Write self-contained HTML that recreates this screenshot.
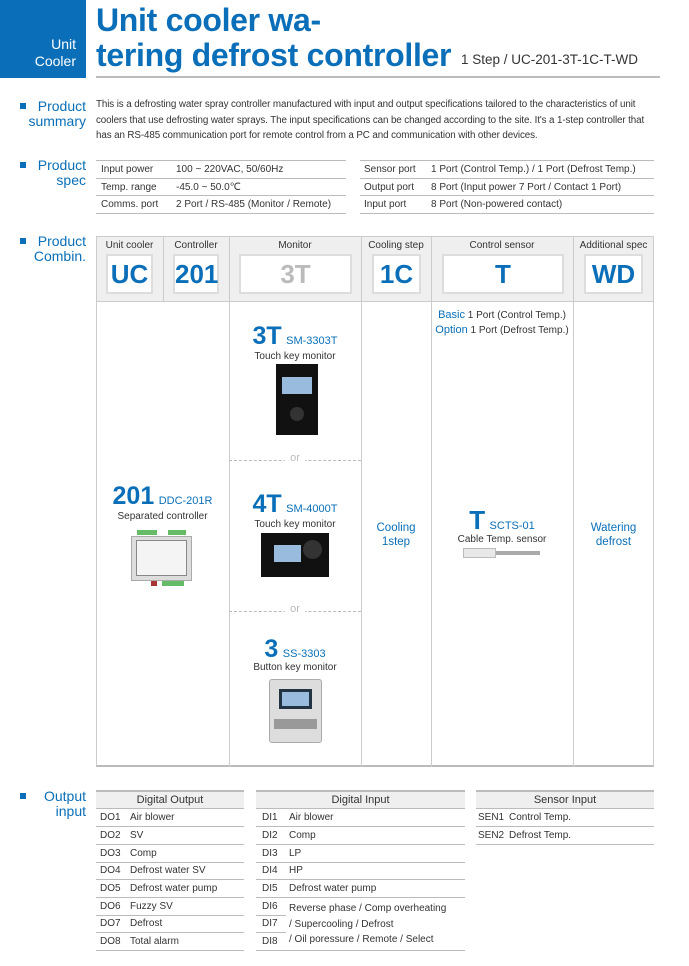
<!DOCTYPE html>
<html><head><meta charset="utf-8"><style>
*{margin:0;padding:0;box-sizing:border-box}
body{width:689px;height:966px;background:#fff;position:relative;font-family:"Liberation Sans",sans-serif;color:#333;overflow:hidden}
.a{position:absolute}
.blue{color:#0a6fb8}
.sec{position:absolute;left:18px;width:68px;text-align:right;color:#0a6fb8;font-size:14px;line-height:15px}
.sec i{position:absolute;left:2px;top:4px;width:6px;height:6px;background:#0a6fb8}
.t{font-size:10.5px;color:#333}
.row{position:absolute;height:17.6px;border-bottom:1px solid #bbb;font-size:10px;line-height:17px}
.hd{position:absolute;background:#efefef;border-top:2px solid #bbb;border-bottom:1px solid #bbb;text-align:center;font-size:11px;line-height:16px;height:19px}
.vl{position:absolute;width:1px;background:#ccc}
.box{position:absolute;background:#fff;border:2px solid #ddd;text-align:center;font-size:26px;line-height:36px;color:#0a6fb8;font-weight:bold}
.ch{position:absolute;font-size:10px;text-align:center;top:240px}
.c{text-align:center;position:absolute}
</style></head><body>
<div class="a" style="left:0;top:0;width:86px;height:78px;background:#0a6fb8"></div>
<div class="a" style="left:0;top:36px;width:76px;text-align:right;color:#fff;font-size:14px;line-height:17px">Unit<br>Cooler</div>
<div class="a blue" style="left:96px;top:3px;font-size:32px;line-height:35px;font-weight:bold;letter-spacing:-0.3px">Unit cooler wa-<br>tering defrost controller</div>
<div class="a" style="left:461px;top:52px;font-size:13.5px;color:#333">1 Step / UC-201-3T-1C-T-WD</div>
<div class="a" style="left:96px;top:76px;width:564px;height:2px;background:#bbb"></div>

<div class="sec" style="top:99px"><i></i>Product<br>summary</div>
<div class="a" style="left:96px;top:97px;width:566px;font-size:9.8px;line-height:15.5px;color:#333;letter-spacing:-0.1px">This is a defrosting water spray controller manufactured with input and output specifications tailored to the characteristics of unit coolers that use defrosting water sprays. The input specifications can be changed according to the site. It's a 1-step controller that has an RS-485 communication port for remote control from a PC and communication with other devices.</div>

<div class="sec" style="top:158px"><i></i>Product<br>spec</div>
<div class="a" style="left:96px;top:160px;width:250px;height:1px;background:#bbb"></div>
<div class="row" style="left:96px;top:161px;width:250px"><span style="margin-left:5px">Input power</span><span class="a" style="left:80px">100 ~ 220VAC, 50/60Hz</span></div>
<div class="row" style="left:96px;top:178.6px;width:250px"><span style="margin-left:5px">Temp. range</span><span class="a" style="left:80px">-45.0 ~ 50.0℃</span></div>
<div class="row" style="left:96px;top:196.2px;width:250px"><span style="margin-left:5px">Comms. port</span><span class="a" style="left:80px">2 Port / RS-485 (Monitor / Remote)</span></div>
<div class="a" style="left:360px;top:160px;width:294px;height:1px;background:#bbb"></div>
<div class="row" style="left:360px;top:161px;width:294px"><span style="margin-left:4px">Sensor port</span><span class="a" style="left:71px">1 Port (Control Temp.) / 1 Port (Defrost Temp.)</span></div>
<div class="row" style="left:360px;top:178.6px;width:294px"><span style="margin-left:4px">Output port</span><span class="a" style="left:71px">8 Port (Input power 7 Port / Contact 1 Port)</span></div>
<div class="row" style="left:360px;top:196.2px;width:294px"><span style="margin-left:4px">Input port</span><span class="a" style="left:71px">8 Port (Non-powered contact)</span></div>

<div class="sec" style="top:234px"><i></i>Product<br>Combin.</div>
<div class="a" style="left:96px;top:236px;width:558px;height:66px;background:#efefef;border-top:1px solid #ccc;border-bottom:1px solid #ccc"></div>
<div class="a" style="left:96px;top:236px;width:558px;height:531px;border:1px solid #ccc;border-bottom:2px solid #bbb"></div>
<div class="vl" style="left:163px;top:236px;height:66px"></div>
<div class="vl" style="left:229px;top:236px;height:531px"></div>
<div class="vl" style="left:361px;top:236px;height:531px"></div>
<div class="vl" style="left:431px;top:236px;height:531px"></div>
<div class="vl" style="left:573px;top:236px;height:531px"></div>
<div class="ch" style="left:96px;width:67px">Unit cooler</div>
<div class="ch" style="left:163px;width:66px">Controller</div>
<div class="ch" style="left:229px;width:132px">Monitor</div>
<div class="ch" style="left:361px;width:70px">Cooling step</div>
<div class="ch" style="left:431px;width:142px">Control sensor</div>
<div class="ch" style="left:573px;width:81px">Additional spec</div>
<div class="box" style="left:106px;top:254px;width:47px;height:40px">UC</div>
<div class="box" style="left:173px;top:254px;width:46px;height:40px">201</div>
<div class="box" style="left:239px;top:254px;width:113px;height:40px;color:#bbb">3T</div>
<div class="box" style="left:372px;top:254px;width:49px;height:40px">1C</div>
<div class="box" style="left:442px;top:254px;width:122px;height:40px">T</div>
<div class="box" style="left:584px;top:254px;width:59px;height:40px">WD</div>

<div class="c" style="left:96px;top:482px;width:133px"><span class="blue" style="font-size:25px;font-weight:bold">201</span> <span class="blue" style="font-size:11px">DDC-201R</span></div>
<div class="c t" style="left:96px;top:511px;width:133px;font-size:10px">Separated controller</div>
<div class="a" style="left:131px;top:536px;width:61px;height:45px;background:#ddd;border:1px solid #aaa"></div>
<div class="a" style="left:136px;top:540px;width:51px;height:36px;background:#f4f4f4;border:1px solid #888"></div>
<div class="a" style="left:137px;top:530px;width:20px;height:5px;background:#6b6"></div>
<div class="a" style="left:168px;top:530px;width:18px;height:5px;background:#6b6"></div>
<div class="a" style="left:162px;top:581px;width:22px;height:5px;background:#6b6"></div>
<div class="a" style="left:151px;top:581px;width:6px;height:5px;background:#a33"></div>

<div class="c" style="left:229px;top:322px;width:132px"><span class="blue" style="font-size:25px;font-weight:bold">3T</span> <span class="blue" style="font-size:11px">SM-3303T</span></div>
<div class="c t" style="left:229px;top:351px;width:132px;font-size:10px">Touch key monitor</div>
<div class="a" style="left:276px;top:364px;width:42px;height:71px;background:#111"></div>
<div class="a" style="left:282px;top:377px;width:30px;height:17px;background:#9bd"></div>
<div class="a" style="left:290px;top:407px;width:14px;height:14px;border-radius:50%;background:#333"></div>
<div class="a" style="left:229px;top:460px;width:132px;border-top:1px dashed #bbb"></div>
<div class="a c" style="left:285px;top:452px;width:20px;background:#fff;color:#bbb;font-size:11px">or</div>

<div class="c" style="left:229px;top:490px;width:132px"><span class="blue" style="font-size:25px;font-weight:bold">4T</span> <span class="blue" style="font-size:11px">SM-4000T</span></div>
<div class="c t" style="left:229px;top:519px;width:132px;font-size:10px">Touch key monitor</div>
<div class="a" style="left:261px;top:533px;width:68px;height:44px;background:#111"></div>
<div class="a" style="left:274px;top:545px;width:27px;height:17px;background:#9bd"></div>
<div class="a" style="left:303px;top:540px;width:19px;height:19px;border-radius:50%;background:#333"></div>
<div class="a" style="left:229px;top:611px;width:132px;border-top:1px dashed #bbb"></div>
<div class="a c" style="left:285px;top:603px;width:20px;background:#fff;color:#bbb;font-size:11px">or</div>

<div class="c" style="left:229px;top:635px;width:132px"><span class="blue" style="font-size:25px;font-weight:bold">3</span> <span class="blue" style="font-size:11px">SS-3303</span></div>
<div class="c t" style="left:229px;top:662px;width:132px;font-size:10px">Button key monitor</div>
<div class="a" style="left:269px;top:679px;width:53px;height:64px;background:#ddd;border:1px solid #aaa;border-radius:3px"></div>
<div class="a" style="left:279px;top:689px;width:33px;height:20px;background:#234"></div>
<div class="a" style="left:282px;top:692px;width:27px;height:14px;background:#9bd"></div>
<div class="a" style="left:274px;top:719px;width:43px;height:10px;background:#999"></div>

<div class="c blue" style="left:361px;top:522px;width:70px;font-size:11.5px;line-height:13.5px">Cooling<br>1step</div>

<div class="c" style="left:431px;top:308px;width:142px;font-size:10px;line-height:14px"><span class="blue" style="font-size:11px">Basic</span> 1 Port (Control Temp.)<br><span class="blue" style="font-size:11px">Option</span> 1 Port (Defrost Temp.)</div>
<div class="c" style="left:431px;top:505px;width:142px"><span class="blue" style="font-size:26px;font-weight:bold">T</span> <span class="blue" style="font-size:11px">SCTS-01</span></div>
<div class="c t" style="left:431px;top:534px;width:142px;font-size:10px">Cable Temp. sensor</div>
<div class="a" style="left:463px;top:548px;width:33px;height:10px;background:#e8e8e8;border:1px solid #bbb"></div>
<div class="a" style="left:496px;top:551px;width:44px;height:4px;background:#aaa"></div>

<div class="c blue" style="left:573px;top:522px;width:81px;font-size:11.5px;line-height:13.5px">Watering<br>defrost</div>

<div class="sec" style="top:789px"><i></i>Output<br>input</div>
<div class="hd" style="left:96px;top:790px;width:148px">Digital Output</div>
<div class="hd" style="left:256px;top:790px;width:209px">Digital Input</div>
<div class="hd" style="left:476px;top:790px;width:178px">Sensor Input</div>
<div class="row" style="left:96px;top:809px;width:148px"><span style="margin-left:4px">DO1</span><span class="a" style="left:34px">Air blower</span></div>
<div class="row" style="left:96px;top:827px;width:148px"><span style="margin-left:4px">DO2</span><span class="a" style="left:34px">SV</span></div>
<div class="row" style="left:96px;top:845px;width:148px"><span style="margin-left:4px">DO3</span><span class="a" style="left:34px">Comp</span></div>
<div class="row" style="left:96px;top:862px;width:148px"><span style="margin-left:4px">DO4</span><span class="a" style="left:34px">Defrost water SV</span></div>
<div class="row" style="left:96px;top:880px;width:148px"><span style="margin-left:4px">DO5</span><span class="a" style="left:34px">Defrost water pump</span></div>
<div class="row" style="left:96px;top:898px;width:148px"><span style="margin-left:4px">DO6</span><span class="a" style="left:34px">Fuzzy SV</span></div>
<div class="row" style="left:96px;top:915px;width:148px"><span style="margin-left:4px">DO7</span><span class="a" style="left:34px">Defrost</span></div>
<div class="row" style="left:96px;top:933px;width:148px"><span style="margin-left:4px">DO8</span><span class="a" style="left:34px">Total alarm</span></div>

<div class="row" style="left:256px;top:809px;width:209px"><span style="margin-left:6px">DI1</span><span class="a" style="left:33px">Air blower</span></div>
<div class="row" style="left:256px;top:827px;width:209px"><span style="margin-left:6px">DI2</span><span class="a" style="left:33px">Comp</span></div>
<div class="row" style="left:256px;top:845px;width:209px"><span style="margin-left:6px">DI3</span><span class="a" style="left:33px">LP</span></div>
<div class="row" style="left:256px;top:862px;width:209px"><span style="margin-left:6px">DI4</span><span class="a" style="left:33px">HP</span></div>
<div class="row" style="left:256px;top:880px;width:209px"><span style="margin-left:6px">DI5</span><span class="a" style="left:33px">Defrost water pump</span></div>
<div class="row" style="left:256px;top:898px;width:30px"><span style="margin-left:6px">DI6</span></div>
<div class="row" style="left:256px;top:915px;width:30px"><span style="margin-left:6px">DI7</span></div>
<div class="row" style="left:256px;top:933px;width:209px"><span style="margin-left:6px">DI8</span></div>
<div class="a" style="left:289px;top:901px;font-size:10px;line-height:15.5px">Reverse phase / Comp overheating<br>/ Supercooling / Defrost<br>/ Oil poressure / Remote / Select</div>

<div class="row" style="left:476px;top:809px;width:178px"><span style="margin-left:2px">SEN1</span><span class="a" style="left:33px">Control Temp.</span></div>
<div class="row" style="left:476px;top:827px;width:178px"><span style="margin-left:2px">SEN2</span><span class="a" style="left:33px">Defrost Temp.</span></div>
</body></html>
